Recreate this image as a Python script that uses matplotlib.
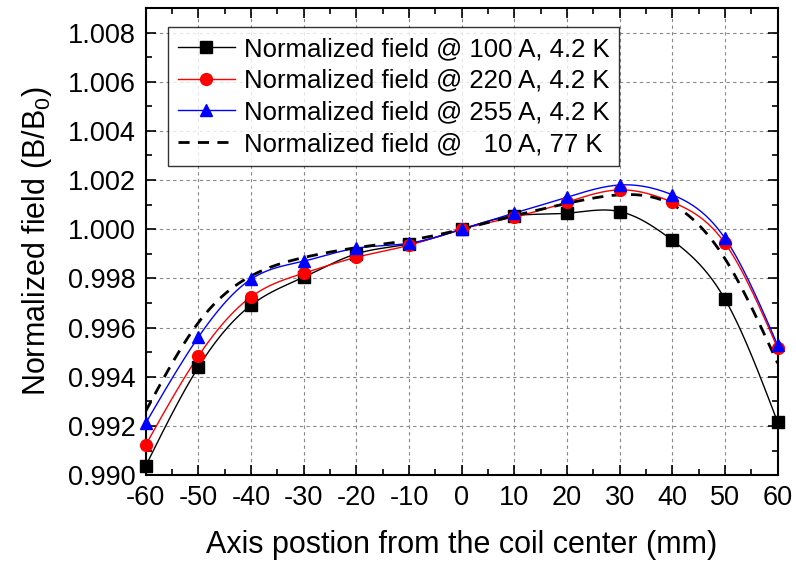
import numpy as np
import matplotlib
matplotlib.use("Agg")
import matplotlib.pyplot as plt
from matplotlib.ticker import MultipleLocator, FormatStrFormatter

plt.rcParams['font.family'] = ['Liberation Sans', 'DejaVu Sans']
plt.rcParams['axes.unicode_minus'] = False
plt.rcParams['mathtext.fontset'] = 'custom'
plt.rcParams['mathtext.rm'] = 'Liberation Sans'

# axial positions (mm)
pos = [-60, -50, -40, -30, -20, -10, 0, 10, 20, 30, 40, 50, 60]

# normalized field B/B0
b_100A = [0.99037, 0.99439, 0.99691, 0.99805, 0.99900, 0.99940, 1.00000,
          1.00055, 1.00065, 1.00072, 0.99955, 0.99715, 0.99215]
b_220A = [0.99122, 0.99484, 0.99725, 0.99821, 0.99886, 0.99935, 1.00000,
          1.00050, 1.00110, 1.00160, 1.00110, 0.99943, 0.99516]
b_255A = [0.99211, 0.99561, 0.99797, 0.99870, 0.99923, 0.99943, 1.00000,
          1.00066, 1.00130, 1.00180, 1.00140, 0.99963, 0.99528]
b_77K = [0.99260, 0.99620, 0.99810, 0.99885, 0.99925, 0.99955, 1.00000,
         1.00055, 1.00105, 1.00140, 1.00100, 0.99880, 0.99455]

labels = ['Normalized field @ 100 A, 4.2 K',
          'Normalized field @ 220 A, 4.2 K',
          'Normalized field @ 255 A, 4.2 K',
          'Normalized field @   10 A, 77 K']


def smooth(x, y, n=300):
    # natural cubic spline through the measured points, only for drawing
    x = np.asarray(x, float)
    y = np.asarray(y, float)
    k = len(x)
    h = np.diff(x)
    A = np.zeros((k, k))
    r = np.zeros(k)
    A[0, 0] = A[-1, -1] = 1
    for i in range(1, k - 1):
        A[i, i - 1] = h[i - 1]
        A[i, i] = 2 * (h[i - 1] + h[i])
        A[i, i + 1] = h[i]
        r[i] = 3 * ((y[i + 1] - y[i]) / h[i] - (y[i] - y[i - 1]) / h[i - 1])
    c = np.linalg.solve(A, r)
    xs = np.linspace(x[0], x[-1], n)
    idx = np.clip(np.searchsorted(x, xs) - 1, 0, k - 2)
    dx = xs - x[idx]
    hi = h[idx]
    b = (y[idx + 1] - y[idx]) / hi - hi * (2 * c[idx] + c[idx + 1]) / 3
    d = (c[idx + 1] - c[idx]) / (3 * hi)
    return xs, y[idx] + b * dx + c[idx] * dx ** 2 + d * dx ** 3


fig = plt.figure(figsize=(7.96, 5.69), dpi=100)
ax = fig.add_axes([0.183, 0.165, 0.794, 0.821])

styles = [
    (b_100A, 'black', 's', '-'),
    (b_220A, 'red', 'o', '-'),
    (b_255A, 'blue', '^', '-'),
]
for (vals, col, mk, ls), lab in zip(styles, labels[:3]):
    xs, ys = smooth(pos, vals)
    ax.plot(xs, ys, color=col, lw=1.0, ls=ls, zorder=3)
    ax.plot(pos, vals, ls='none', marker=mk, color=col, ms=8.5, zorder=4,
            clip_on=False)
    ax.plot([], [], color=col, lw=1.0, marker=mk, ms=8.5, label=lab)

xs, ys = smooth(pos, b_77K)
ax.plot(xs, ys, color='black', lw=2.0, ls=(0, (4, 3)), zorder=3, label=labels[3])

ax.set_xlim(-60, 60)
ax.set_ylim(0.990, 1.009)
ax.xaxis.set_major_locator(MultipleLocator(10))
ax.xaxis.set_minor_locator(MultipleLocator(5))
ax.yaxis.set_major_locator(MultipleLocator(0.002))
ax.yaxis.set_minor_locator(MultipleLocator(0.001))
ax.yaxis.set_major_formatter(FormatStrFormatter('%.3f'))
ax.tick_params(which='both', direction='in', top=True, right=True,
               labelsize=19.5, width=1.2)
ax.tick_params(which='major', length=7, pad=7)
ax.tick_params(which='minor', length=4)
for s in ax.spines.values():
    s.set_linewidth(1.5)
ax.grid(True, which='major', color='#888888', ls=(0, (3, 3)), lw=0.8)

ax.set_xlabel('Axis postion from the coil center (mm)', fontsize=22, labelpad=14)
ax.set_ylabel('Normalized field (B/B$_0$)', fontsize=22, labelpad=10)

leg = ax.legend(loc='upper left', bbox_to_anchor=(0.035, 0.96), fontsize=18.5,
                frameon=True, fancybox=False, edgecolor='black',
                handlelength=2.2, handletextpad=0.35, borderpad=0.4,
                labelspacing=0.3, borderaxespad=0)
leg.get_frame().set_linewidth(1.0)

fig.savefig('out.png', dpi=100)
